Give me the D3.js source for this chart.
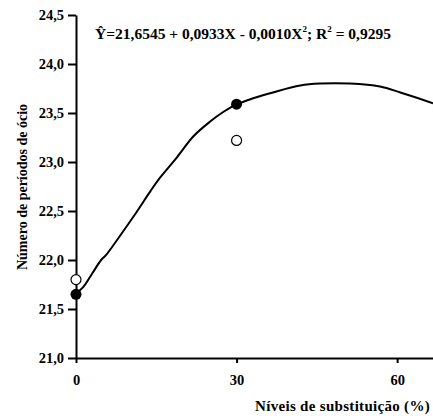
<!DOCTYPE html>
<html>
<head>
<meta charset="utf-8">
<script src="https://cdn.jsdelivr.net/npm/d3@7"></script>
<style>
  body { margin: 0; background: #fff; }
  text { font-family: "Liberation Serif", "Times New Roman", serif; font-weight: bold; }
</style>
</head>
<body>
<div id="chart"></div>
<script>
// fitted curve
var curveX = [0, 1.3, 3.0, 4.7, 5.6, 8.0, 11.2, 14.0, 15.7, 18.9, 21.9, 25.0, 27.5, 30.1, 33.1, 36.8, 41.9, 45.6, 51.2, 56.8, 60.6, 66.7];
var curveY = [21.66, 21.72, 21.86, 22.00, 22.05, 22.23, 22.48, 22.71, 22.84, 23.05, 23.26, 23.41, 23.51, 23.59, 23.65, 23.71, 23.78, 23.80, 23.80, 23.77, 23.71, 23.60];

// observed points
var filledX = [0, 30];
var filledY = [21.65, 23.59];
var openX = [0, 30];
var openY = [21.80, 23.22];

var yTicks = [21.0, 21.5, 22.0, 22.5, 23.0, 23.5, 24.0, 24.5];
var xTicks = [0, 30, 60];

var width = 433, height = 416;
var fmt = function(d) { return d3.format(".1f")(d).replace(".", ","); };

var svg = d3.select("#chart")
    .append("svg")
    .attr("width", width)
    .attr("height", height);

var x = d3.scaleLinear().domain([0, 66.7]).range([76, 433]);
var y = d3.scaleLinear().domain([21, 24.5]).range([358, 15]);

// y axis
var yAxis = svg.append("g")
    .attr("transform", "translate(76,0)")
    .call(d3.axisLeft(y).tickValues(yTicks).tickFormat(fmt).tickSize(8).tickSizeOuter(0));
yAxis.select(".domain").attr("stroke-width", 2);
yAxis.selectAll(".tick line").attr("stroke-width", 2);
yAxis.selectAll(".tick text")
    .attr("x", -12)
    .attr("font-size", 14.5)
    .attr("font-family", "Liberation Serif")
    .attr("font-weight", "bold");

// x axis
var xAxis = svg.append("g")
    .attr("transform", "translate(0,358)")
    .call(d3.axisBottom(x).tickValues(xTicks).tickFormat(d3.format("d")).tickSize(5).tickSizeOuter(0));
xAxis.select(".domain").attr("stroke-width", 2);
xAxis.selectAll(".tick line").attr("stroke-width", 2);
xAxis.selectAll(".tick text")
    .attr("y", 17)
    .attr("font-size", 14.5)
    .attr("font-family", "Liberation Serif")
    .attr("font-weight", "bold");

// the curve
var curve = curveX.map(function(d, i) { return [d, curveY[i]]; });
svg.append("path")
    .datum(curve)
    .attr("fill", "none")
    .attr("stroke", "#000")
    .attr("stroke-width", 2)
    .attr("d", d3.line().x(function(d) { return x(d[0]); }).y(function(d) { return y(d[1]); }).curve(d3.curveCatmullRom));

// points
svg.selectAll(".open")
    .data(openX)
    .enter().append("circle")
    .attr("cx", function(d) { return x(d); })
    .attr("cy", function(d, i) { return y(openY[i]); })
    .attr("r", 5)
    .attr("fill", "#fff")
    .attr("stroke", "#000")
    .attr("stroke-width", 1.2);

svg.selectAll(".filled")
    .data(filledX)
    .enter().append("circle")
    .attr("cx", function(d) { return x(d); })
    .attr("cy", function(d, i) { return y(filledY[i]); })
    .attr("r", 5.5)
    .attr("fill", "#000");

// equation
var eq = svg.append("text")
    .attr("x", 95)
    .attr("y", 39)
    .attr("font-size", 15.5);
eq.append("tspan").text("Ŷ=21,6545 + 0,0933X - 0,0010X");
eq.append("tspan").attr("dy", -7).attr("font-size", 9).text("2");
eq.append("tspan").attr("dy", 7).text("; R");
eq.append("tspan").attr("dy", -7).attr("font-size", 9).text("2");
eq.append("tspan").attr("dy", 7).text(" = 0,9295");

// axis titles
svg.append("text")
    .attr("x", 430)
    .attr("y", 411)
    .attr("text-anchor", "end")
    .attr("font-size", 15)
    .attr("letter-spacing", 0.3)
    .text("Níveis de substituição (%)");

svg.append("text")
    .attr("transform", "translate(27,187) rotate(-90)")
    .attr("text-anchor", "middle")
    .attr("font-size", 14)
    .text("Número de períodos de ócio");
</script>
</body>
</html>
